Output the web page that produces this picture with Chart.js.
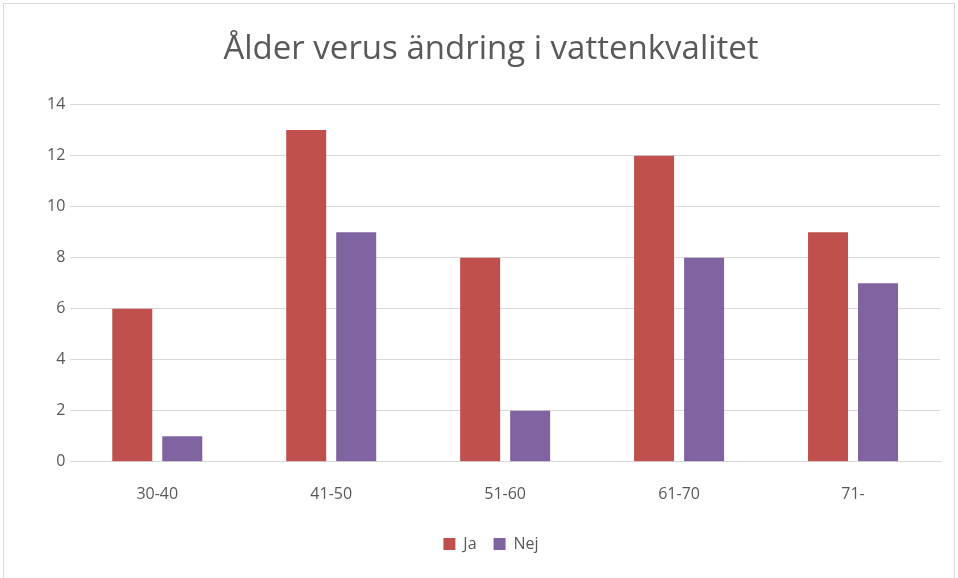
<!doctype html>
<html>

<head>
    <title>Ålder verus ändring i vattenkvalitet</title>
    <script src="https://cdn.jsdelivr.net/npm/chart.js@4/dist/chart.umd.min.js"></script>
    <style>
    html, body {
        margin: 0;
        padding: 0;
        background: #ffffff;
    }
    #container {
        position: absolute;
        left: 3px;
        top: 3px;
        width: 952px;
        height: 580px;
        border: 1px solid #d9d9d9;
        box-sizing: border-box;
    }
    </style>
</head>

<body>
    <div id="container">
        <canvas id="canvas"></canvas>
    </div>

    <script>
        var categories = ["30-40", "41-50", "51-60", "61-70", "71-"];
        var jaValues = [6, 13, 8, 12, 9];
        var nejValues = [1, 9, 2, 8, 7];
        var yTicks = [0, 2, 4, 6, 8, 10, 12, 14];

        var barChartData = {
            labels: categories,
            datasets: [{
                label: 'Ja',
                backgroundColor: '#c0504d',
                data: jaValues
            }, {
                label: 'Nej',
                backgroundColor: '#8064a2',
                data: nejValues
            }]
        };

        window.onload = function() {
            var ctx = document.getElementById("canvas").getContext("2d");
            window.myBar = new Chart(ctx, {
                type: 'bar',
                data: barChartData,
                options: {
                    responsive: true,
                    maintainAspectRatio: false,
                    animation: false,
                    categoryPercentage: 0.575,
                    barPercentage: 0.8,
                    layout: {
                        padding: { left: 38, right: 14, top: 26, bottom: 20 }
                    },
                    plugins: {
                        title: {
                            display: true,
                            text: 'Ålder verus ändring i vattenkvalitet',
                            color: '#595959',
                            font: { family: 'Open Sans', size: 33, weight: 'normal' },
                            padding: { top: 0, bottom: 35 }
                        },
                        legend: {
                            position: 'bottom',
                            labels: {
                                color: '#595959',
                                font: { family: 'Open Sans', size: 16 },
                                boxWidth: 12,
                                boxHeight: 12,
                                padding: 17
                            }
                        },
                        tooltip: { enabled: false }
                    },
                    scales: {
                        x: {
                            grid: { display: false },
                            border: { color: '#d9d9d9' },
                            ticks: {
                                color: '#595959',
                                font: { family: 'Open Sans', size: 16 },
                                padding: 15
                            }
                        },
                        y: {
                            min: 0,
                            max: 14,
                            afterBuildTicks: function(axis) {
                                axis.ticks = yTicks.map(function(v) { return { value: v }; });
                            },
                            grid: { color: '#d9d9d9', drawTicks: false },
                            border: { display: false },
                            ticks: {
                                color: '#595959',
                                font: { family: 'Open Sans', size: 16 },
                                padding: 5
                            }
                        }
                    }
                }
            });
        };
    </script>
</body>

</html>
